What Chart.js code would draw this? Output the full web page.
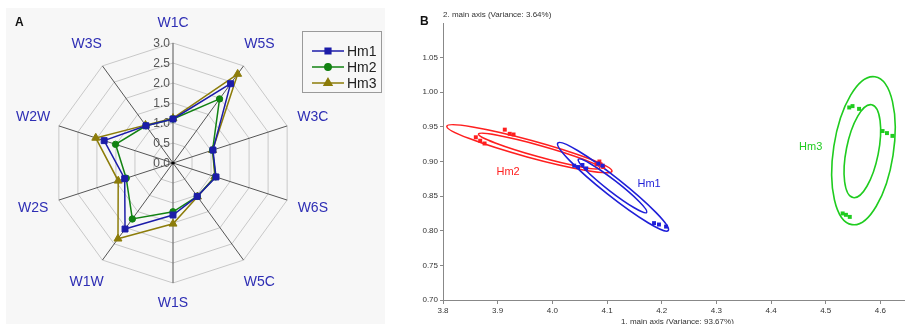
<!DOCTYPE html>
<html>
<head>
<meta charset="utf-8">
<script src="https://cdn.jsdelivr.net/npm/chart.js@4.4.1/dist/chart.umd.min.js"></script>
<style>
  body { margin:0; width:905px; height:324px; background:#fff; overflow:hidden; position:relative;
         font-family:"Liberation Sans", Arial, sans-serif; }
  #panelA { position:absolute; left:6px; top:8px; width:379px; height:316px; background:#f7f7f7; }
  #radar { position:absolute; left:0; top:0; }
  #scatter { position:absolute; left:400px; top:0; }
  .tag { position:absolute; font-weight:bold; font-size:12px; color:#111; }
  .axt { position:absolute; font-size:8px; color:#333; white-space:nowrap; }
</style>
</head>
<body>
<div id="panelA"></div>
<canvas id="radar" width="385" height="324"></canvas>
<canvas id="scatter" width="505" height="324"></canvas>
<div class="tag" style="left:15px;top:15px;">A</div>
<div class="tag" style="left:420px;top:14px;">B</div>
<div class="axt" style="left:443px;top:10px;">2. main axis (Variance: 3.64%)</div>
<div class="axt" style="left:621px;top:317px;">1. main axis (Variance: 93.67%)</div>
<script>
// ---- data: panel A (radar) ----
const groups = ["Hm1", "Hm2", "Hm3"];
const radarAxes = ["W1C", "W5S", "W3C", "W6S", "W5C", "W1S", "W1W", "W2S", "W2W", "W3S"];
const hm1Radar = [1.10, 2.45, 1.05, 1.13, 1.03, 1.30, 2.04, 1.27, 1.81, 1.15];
const hm2Radar = [1.10, 1.98, 1.04, 1.12, 1.03, 1.22, 1.73, 1.23, 1.51, 1.15];
const hm3Radar = [1.12, 2.75, 1.04, 1.10, 1.04, 1.52, 2.34, 1.44, 2.03, 1.17];
const radarTicks = [0, 0.5, 1.0, 1.5, 2.0, 2.5, 3.0];

// ---- data: panel B (scatter + confidence ellipses) ----
const xTicks = [3.8, 3.9, 4.0, 4.1, 4.2, 4.3, 4.4, 4.5, 4.6];
const yTicks = [0.70, 0.75, 0.80, 0.85, 0.90, 0.95, 1.00, 1.05];
const hm1X = [4.040, 4.047, 4.055, 4.062, 4.084, 4.092, 4.186, 4.195, 4.208];
const hm1Y = [0.894, 0.892, 0.895, 0.890, 0.897, 0.894, 0.811, 0.809, 0.806];
const hm2X = [3.913, 3.922, 3.929, 3.860, 3.868, 3.876, 4.081, 4.088, 4.093, 4.086];
const hm2Y = [0.946, 0.940, 0.939, 0.935, 0.930, 0.926, 0.896, 0.896, 0.892, 0.900];
const hm3X = [4.543, 4.549, 4.561, 4.604, 4.612, 4.622, 4.531, 4.537, 4.544];
const hm3Y = [0.978, 0.980, 0.976, 0.944, 0.941, 0.937, 0.825, 0.823, 0.820];

// ellipses: group, centre, end of major semi-axis, minor/major ratio
const ellGroup = [1, 1, 0, 0, 2, 2];
const ellCx = [3.958, 3.976, 4.111, 4.110, 4.569, 4.567];
const ellCy = [0.9185, 0.915, 0.8635, 0.8648, 0.9156, 0.9149];
const ellEx = [4.109, 4.087, 4.212, 4.1725, 4.590, 4.584];
const ellEy = [0.886, 0.8905, 0.8003, 0.8265, 1.0224, 0.9819];
const ellRatio = [0.10, 0.09, 0.13, 0.13, 0.40, 0.34];
const labelX = [4.177, 3.919, 4.4725];
const labelY = [0.868, 0.885, 0.9206];

const radarColors = ["#1c1ca8", "#128212", "#8c7c0a"];
const scatterColors = ["#1f1fd8", "#ff1f1f", "#1fcc1f"];
const FONT = "'Liberation Sans', Arial, sans-serif";

// Radar extras: tick labels, point labels, centre dot, legend
const radarDecor = {
  id: "radarDecor",
  beforeDatasetsDraw(chart) {
    const s = chart.scales.r, ctx = chart.ctx;
    ctx.save();
    ctx.font = "12px " + FONT;
    ctx.fillStyle = "#555";
    ctx.textAlign = "right";
    ctx.textBaseline = "middle";
    radarTicks.forEach(v => {
      const p = s.getPointPositionForValue(0, v);
      ctx.fillText(v.toFixed(1), p.x - 3, p.y + 1);
    });
    ctx.restore();
  },
  afterDraw(chart) {
    const s = chart.scales.r, ctx = chart.ctx;
    ctx.save();
    ctx.fillStyle = "#000";
    ctx.beginPath();
    ctx.arc(s.xCenter, s.yCenter, 1.6, 0, Math.PI * 2);
    ctx.fill();

    ctx.font = "14px " + FONT;
    ctx.fillStyle = "#2e2eb4";
    ctx.textAlign = "center";
    ctx.textBaseline = "middle";
    radarAxes.forEach((lab, i) => {
      const extra = (i === 0 || i === 5) ? 20 : 27;
      const p = s.getPointPosition(i, s.drawingArea + extra);
      ctx.fillText(lab, p.x, p.y);
    });

    // legend
    ctx.fillStyle = "#f7f7f7";
    ctx.strokeStyle = "#9a9a9a";
    ctx.lineWidth = 1;
    ctx.fillRect(302.5, 31.5, 79, 61);
    ctx.strokeRect(302.5, 31.5, 79, 61);
    const shapes = ["rect", "circle", "triangle"];
    groups.forEach((g, i) => {
      const y = 51 + i * 16;
      ctx.strokeStyle = radarColors[i];
      ctx.lineWidth = 1.5;
      ctx.beginPath();
      ctx.moveTo(312, y);
      ctx.lineTo(344, y);
      ctx.stroke();
      Chart.helpers.drawPoint(ctx, {
        pointStyle: shapes[i], radius: i === 2 ? 4.5 : (i === 0 ? 4 : 3.2), rotation: 0, borderWidth: 1
      }, 328, y);
      ctx.fillStyle = radarColors[i];
      ctx.fill();
      ctx.fillStyle = "#222";
      ctx.font = "14px " + FONT;
      ctx.textAlign = "left";
      ctx.fillText(g, 347, y + 1);
    });
    ctx.restore();
  }
};

new Chart(document.getElementById("radar"), {
  type: "radar",
  data: {
    labels: radarAxes,
    datasets: [
      { label: groups[0], data: hm1Radar, borderColor: radarColors[0], backgroundColor: radarColors[0],
        pointStyle: "rect", pointRadius: 4.2 },
      { label: groups[1], data: hm2Radar, borderColor: radarColors[1], backgroundColor: radarColors[1],
        pointStyle: "circle", pointRadius: 3.2 },
      { label: groups[2], data: hm3Radar, borderColor: radarColors[2], backgroundColor: radarColors[2],
        pointStyle: "triangle", pointRadius: 4.6 }
    ]
  },
  options: {
    responsive: false,
    animation: false,
    layout: { padding: { left: 53, top: 43, right: 92, bottom: 41 } },
    elements: { line: { borderWidth: 1.5, fill: false, tension: 0 }, point: { borderWidth: 1 } },
    plugins: { legend: { display: false }, tooltip: { enabled: false } },
    scales: {
      r: {
        min: 0, max: 3,
        ticks: { stepSize: 0.5, display: false },
        grid: { color: "#c8c8c8", lineWidth: 1 },
        angleLines: { color: "#555", lineWidth: 1 },
        pointLabels: { display: false }
      }
    }
  },
  plugins: [radarDecor]
});

// Scatter extras: ellipses and group labels
const ellipseDecor = {
  id: "ellipseDecor",
  beforeDatasetsDraw(chart) {
    const xs = chart.scales.x, ys = chart.scales.y, ctx = chart.ctx;
    ctx.save();
    ctx.lineWidth = 1.6;
    ellCx.forEach((cx, i) => {
      const px = xs.getPixelForValue(cx), py = ys.getPixelForValue(ellCy[i]);
      const ex = xs.getPixelForValue(ellEx[i]), ey = ys.getPixelForValue(ellEy[i]);
      const a = Math.hypot(ex - px, ey - py);
      const ang = Math.atan2(ey - py, ex - px);
      ctx.strokeStyle = scatterColors[ellGroup[i]];
      ctx.beginPath();
      ctx.ellipse(px, py, a, a * ellRatio[i], ang, 0, Math.PI * 2);
      ctx.stroke();
    });
    ctx.font = "11px " + FONT;
    ctx.textAlign = "center";
    ctx.textBaseline = "middle";
    groups.forEach((g, i) => {
      ctx.fillStyle = scatterColors[i];
      ctx.fillText(g, xs.getPixelForValue(labelX[i]), ys.getPixelForValue(labelY[i]));
    });
    ctx.restore();
  }
};

const toPts = (xs, ys) => xs.map((x, i) => ({ x, y: ys[i] }));

new Chart(document.getElementById("scatter"), {
  type: "scatter",
  data: {
    datasets: [
      { label: groups[0], data: toPts(hm1X, hm1Y), backgroundColor: scatterColors[0], borderColor: scatterColors[0] },
      { label: groups[1], data: toPts(hm2X, hm2Y), backgroundColor: scatterColors[1], borderColor: scatterColors[1] },
      { label: groups[2], data: toPts(hm3X, hm3Y), backgroundColor: scatterColors[2], borderColor: scatterColors[2] }
    ]
  },
  options: {
    responsive: false,
    animation: false,
    layout: { autoPadding: false, padding: { left: 0, top: 23, right: 0, bottom: 0 } },
    elements: { point: { pointStyle: "rect", radius: 2.8, borderWidth: 0 } },
    plugins: { legend: { display: false }, tooltip: { enabled: false } },
    scales: {
      x: {
        type: "linear", min: 3.8, max: 4.645,
        afterFit(s) { s.height = 24; },
        afterBuildTicks(s) { s.ticks = xTicks.map(v => ({ value: v })); },
        ticks: { autoSkip: false, maxRotation: 0, padding: 2,
                 color: "#333", font: { size: 8, family: FONT }, callback: v => v.toFixed(1) },
        grid: { drawOnChartArea: false, tickLength: 4, color: "#888" },
        border: { color: "#888" }
      },
      y: {
        min: 0.7, max: 1.1,
        afterFit(s) { s.width = 43; },
        afterBuildTicks(s) { s.ticks = yTicks.map(v => ({ value: v })); },
        ticks: { autoSkip: false, padding: 2,
                 color: "#333", font: { size: 8, family: FONT }, callback: v => v.toFixed(2) },
        grid: { drawOnChartArea: false, tickLength: 3, color: "#888" },
        border: { color: "#888" }
      }
    }
  },
  plugins: [ellipseDecor]
});
</script>
</body>
</html>
